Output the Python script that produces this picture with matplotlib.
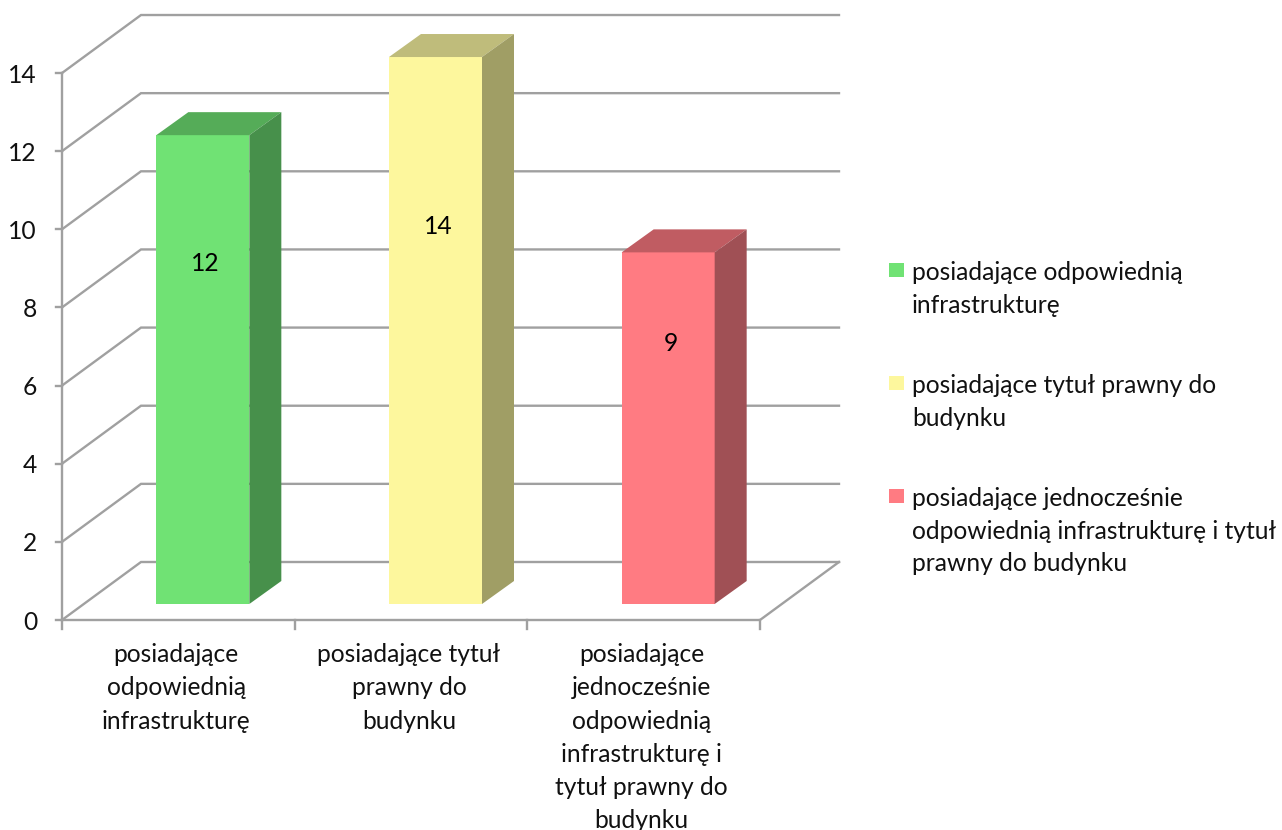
import matplotlib
matplotlib.use("Agg")
import matplotlib.pyplot as plt
from matplotlib.patches import Polygon, Rectangle

plt.rcParams['font.family'] = ['Lato', 'DejaVu Sans']

categories = ["posiadające\nodpowiednią\ninfrastrukturę",
              "posiadające tytuł\nprawny do\nbudynku",
              "posiadające\njednocześnie\nodpowiednią\ninfrastrukturę i\ntytuł prawny do\nbudynku"]
values = [12, 14, 9]
legend_labels = ["posiadające odpowiednią\ninfrastrukturę",
                 "posiadające tytuł prawny do\nbudynku",
                 "posiadające jednocześnie\nodpowiednią infrastrukturę i tytuł\nprawny do budynku"]
y_ticks = [0, 2, 4, 6, 8, 10, 12, 14]

front_colors = ["#70E274", "#FDF79D", "#FF7B82"]
top_colors = ["#55AC58", "#BFBC7B", "#C05C62"]
side_colors = ["#47904B", "#A09E65", "#A05055"]
legend_colors = front_colors
grid = "#A0A0A0"
text_c = "#111111"

fig = plt.figure(figsize=(12.82, 8.30), dpi=100)
ax = fig.add_axes([0, 0, 1, 1])
ax.set_xlim(0, 1282)
ax.set_ylim(830, 0)
ax.axis("off")

X0, X1, Y0 = 62, 760, 620
UNIT = 39.07
DX, DY = 79, -58
BDX, BDY = 32, -23
BASE = 604
lw = 1.7
fs = 17.7
LABEL_FRAC = [0.274, 0.31, 0.258]

def yv(v):
    return Y0 - v * UNIT

for t in y_ticks:
    ax.plot([X0, X0 + DX, X1 + DX], [yv(t), yv(t) + DY, yv(t) + DY], color=grid, lw=lw, zorder=1, solid_joinstyle='miter')
    ax.plot([X0 - 6, X0], [yv(t), yv(t)], color=grid, lw=lw, zorder=1)
    ax.text(37, yv(t) + 2, str(t), ha="right", va="center", fontsize=fs, color=text_c)
ax.plot([X0, X0], [yv(0), yv(max(y_ticks))], color=grid, lw=lw, zorder=1)
ax.plot([X0, X1, X1 + DX], [Y0, Y0, Y0 + DY], color=grid, lw=lw, zorder=1)

slot = (X1 - X0) / len(values)
bar_w = 93
for i, v in enumerate(values):
    cx = X0 + slot * (i + 0.5) + 24.5
    l, r = cx - bar_w / 2, cx + bar_w / 2
    top = BASE - v * UNIT
    ax.add_patch(Rectangle((l, top), bar_w, BASE - top, fc=front_colors[i], ec="none", zorder=3))
    ax.add_patch(Polygon([(l, top), (r, top), (r + BDX, top + BDY), (l + BDX, top + BDY)], fc=top_colors[i], ec="none", zorder=3))
    ax.add_patch(Polygon([(r, top), (r, BASE), (r + BDX, BASE + BDY), (r + BDX, top + BDY)], fc=side_colors[i], ec="none", zorder=3))
    ax.text(cx + 2.5, top + (BASE - top) * LABEL_FRAC[i], str(v), ha="center", va="center", fontsize=fs, color="black", zorder=4)
    tick_x = X0 + slot * i
    ax.plot([tick_x, tick_x], [Y0, Y0 + 9], color=grid, lw=lw, zorder=1)
    ax.text(X0 + slot * (i + 0.5) - 2, 643, categories[i], ha="center", va="top", fontsize=fs, color=text_c, linespacing=1.54)
ax.plot([X1, X1], [Y0, Y0 + 9], color=grid, lw=lw, zorder=1)

leg_y = [270, 383, 496]
for y, c, lab in zip(leg_y, legend_colors, legend_labels):
    ax.add_patch(Rectangle((889, y - 7), 15, 14, fc=c, ec="none"))
    ax.text(912, y - 9, lab, ha="left", va="top", fontsize=fs, color=text_c, linespacing=1.5)

fig.savefig("out.png", dpi=100, facecolor="white")
